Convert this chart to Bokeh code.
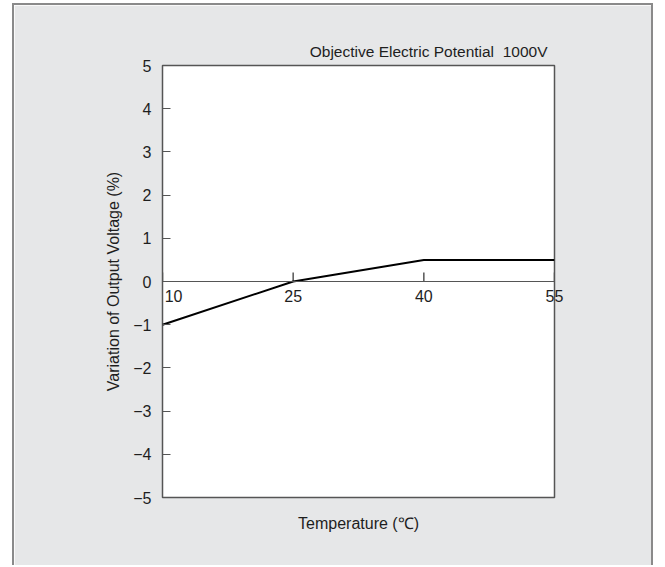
import math
from bokeh.plotting import figure
from bokeh.models import Span, ColumnDataSource, FixedTicker, CustomJSTickFormatter
from bokeh.embed import file_html
from bokeh.resources import INLINE

# data
temperature = [10, 25, 40, 55]
variation = [-1.0, 0.0, 0.5, 0.5]
x_ticks = [10, 25, 40, 55]
x_tick_labels = ["10", "25", "40", "55"]
y_ticks = [-5, -4, -3, -2, -1, 0, 1, 2, 3, 4, 5]
title_text = "Objective Electric Potential\u00a0 1000V"
x_label = "Temperature (\u2103)"
y_label = "Variation of Output Voltage (%)"

FONT = "Liberation Sans"
BG = "#e6e7e8"
FRAME = "#555555"
TXT = "#1e1e1e"

p = figure(width=641, height=562, output_backend="svg", toolbar_location=None,
           x_range=(10, 55), y_range=(-5, 5),
           min_border_left=148, min_border_right=101, min_border_top=60, min_border_bottom=70)
p.styles = {"margin-left": "12px", "margin-top": "3px",
            "border-top": "2px solid #8a8a8a", "border-left": "2px solid #8a8a8a",
            "border-right": "2px solid #8a8a8a"}
p.background_fill_color = "white"
p.border_fill_color = BG
p.outline_line_color = FRAME
p.outline_line_width = 1.5
p.grid.visible = False

p.title.text = title_text
p.title.align = "right"
p.title.offset = 7
p.title.text_font = FONT
p.title.text_font_size = "15.5px"
p.title.text_font_style = "normal"
p.title.text_color = TXT
p.title.standoff = 12

ya = p.yaxis[0]
ya.ticker = FixedTicker(ticks=y_ticks)
ya.formatter = CustomJSTickFormatter(code="return tick < 0 ? '\u2212' + Math.abs(tick) : String(tick);")
ya.axis_line_color = None
ya.major_tick_in = 8
ya.major_tick_out = 0
ya.major_tick_line_color = FRAME
ya.minor_tick_line_color = None
ya.major_label_standoff = 11
ya.major_label_text_font = FONT
ya.major_label_text_font_size = "16px"
ya.major_label_text_color = TXT
ya.axis_label = y_label
ya.axis_label_text_font = FONT
ya.axis_label_text_font_size = "16px"
ya.axis_label_text_font_style = "normal"
ya.axis_label_text_color = TXT
ya.axis_label_standoff = 8

# bottom axis: its tick labels are lifted up to sit under the zero line
xa = p.xaxis[0]
xa.ticker = FixedTicker(ticks=x_ticks)
pad = "\u00a0" * 5
xa.major_label_overrides = {t: (pad + s if t == min(x_ticks) else s)
                            for t, s in zip(x_ticks, x_tick_labels)}
xa.axis_line_color = None
xa.major_tick_line_color = None
xa.major_tick_in = 0
xa.major_tick_out = 0
xa.minor_tick_line_color = None
xa.major_label_standoff = -210
xa.major_label_text_font = FONT
xa.major_label_text_font_size = "16px"
xa.major_label_text_color = TXT
xa.axis_label = x_label
xa.axis_label_text_font = FONT
xa.axis_label_text_font_size = "16px"
xa.axis_label_text_font_style = "normal"
xa.axis_label_text_color = TXT
xa.axis_label_standoff = 207

# zero line acting as the x axis line
p.add_layout(Span(location=0, dimension="width", line_color=FRAME, line_width=1))
tick_src = ColumnDataSource(dict(x=x_ticks, y=[0] * len(x_ticks)))
p.ray(x="x", y="y", source=tick_src, length=9, length_units="screen",
      angle=math.pi / 2, line_color=FRAME, line_width=1.5)

p.line(temperature, variation, line_color="black", line_width=2)

open("out.html", "w").write(file_html(p, INLINE))
